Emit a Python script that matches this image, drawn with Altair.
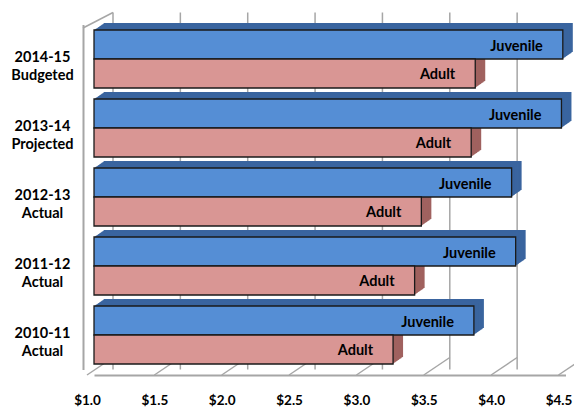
import altair as alt
import pandas as pd

# ---- data ----
periods = ["2014-15|Budgeted", "2013-14|Projected", "2012-13|Actual", "2011-12|Actual", "2010-11|Actual"]
series = ["Juvenile", "Adult"]
juvenile = [4.48, 4.47, 4.10, 4.13, 3.82]
adult = [3.83, 3.80, 3.43, 3.38, 3.22]
x_ticks = [1.0, 1.5, 2.0, 2.5, 3.0, 3.5, 4.0, 4.5]

rows = []
for p, j, a in zip(periods, juvenile, adult):
    rows.append({"period": p, "series": "Juvenile", "value": j})
    rows.append({"period": p, "series": "Adult", "value": a})
df = pd.DataFrame(rows)
ticks_df = pd.DataFrame({"tick": x_ticks})

# ---- layout / style ----
W, H = 471.5, 345
STEP = H / 5.0
BAND = STEP * 0.84
QUARTER = BAND / 4.0
FONT = "Lato"
FRONT = {"Juvenile": "#558ED5", "Adult": "#D99694"}
DEPTH = {"Juvenile": "#3A659F", "Adult": "#A0625F"}
SHIFT = {"Juvenile": -QUARTER, "Adult": QUARTER}
GRID = "#A6A6A6"
DX, DY = 10, -7

xscale = alt.Scale(domain=[1.0, 4.5], nice=False, zero=False)
yscale = alt.Scale(paddingInner=0.16, paddingOuter=0.08)

x_axis = alt.Axis(
    values=x_ticks, format="$.1f", grid=False, ticks=False, tickSize=0,
    domainColor=GRID, domainWidth=2, offset=5.5, labelFlush=False,
    labelFont=FONT, labelFontWeight="bold", labelFontSize=13.5, labelColor="#000000",
    labelBaseline="middle", labelPadding=25, labelOffset=-7, title=None,
)
y_axis = alt.Axis(
    labelExpr="split(datum.label, '|')", ticks=False, tickSize=0,
    domainColor=GRID, domainWidth=2, offset=11,
    labelFont=FONT, labelFontWeight="bold", labelFontSize=14.5, labelColor="#000000",
    labelAlign="center", labelBaseline="middle", labelPadding=41, labelOffset=-1,
    labelLineHeight=18, title=None,
)

base = alt.Chart(df)
xenc = alt.X("value:Q", scale=xscale, axis=x_axis)
yenc = alt.Y("period:N", sort=periods, scale=yscale, axis=y_axis)

# back-wall gridlines (shifted into depth)
grid = alt.Chart(ticks_df).mark_rule(
    color=GRID, strokeWidth=1.5, xOffset=19, yOffset=-12, y2Offset=-12
).encode(x=alt.X("tick:Q", scale=xscale))

# floor diagonals
floor = alt.Chart(ticks_df).mark_rule(
    color=GRID, strokeWidth=1.5, xOffset=-7, x2Offset=19
).encode(
    x=alt.X("tick:Q", scale=xscale), x2="tick:Q",
    y=alt.value(H + 5.5), y2=alt.value(H - 12),
)

# top edge of the left wall
wall_top = alt.Chart(ticks_df).transform_filter(alt.datum.tick == 1.0).mark_rule(
    color=GRID, strokeWidth=1.5, xOffset=-11, x2Offset=19
).encode(
    x=alt.X("tick:Q", scale=xscale), x2="tick:Q",
    y=alt.value(3.5), y2=alt.value(-12),
)

layers = [grid, floor, wall_top]
N = 12
for s in series:
    sub = base.transform_filter(alt.datum.series == s)
    for k in range(N, 0, -1):
        f = k / N
        layers.append(
            sub.mark_bar(
                height={"band": 0.5}, color=DEPTH[s],
                xOffset=DX * f, x2Offset=DX * f, yOffset=SHIFT[s] + DY * f,
            ).encode(x=xenc, x2=alt.X2(datum=1.0), y=yenc)
        )
for s in series:
    sub = base.transform_filter(alt.datum.series == s)
    layers.append(
        sub.mark_bar(
            height={"band": 0.5}, color=FRONT[s], stroke="#1A1A1A", strokeWidth=1.3,
            yOffset=SHIFT[s],
        ).encode(x=xenc, x2=alt.X2(datum=1.0), y=yenc)
    )
for s in series:
    sub = base.transform_filter(alt.datum.series == s)
    layers.append(
        sub.mark_text(
            align="right", baseline="middle", dx=-20, yOffset=SHIFT[s] + 2,
            font=FONT, fontWeight="bold", fontSize=14.5, color="#000000",
        ).encode(x=alt.X("value:Q", scale=xscale), y=alt.Y("period:N", sort=periods, scale=yscale),
                 text="series:N")
    )

chart = alt.layer(*layers).properties(
    width=W, height=H,
    autosize=alt.AutoSizeParams(type="none"),
    padding={"left": 86, "top": 16.5, "right": 8, "bottom": 37.5},
).configure_view(stroke=None)

chart.save("out.html", embed_options={"renderer": "svg", "actions": False})
